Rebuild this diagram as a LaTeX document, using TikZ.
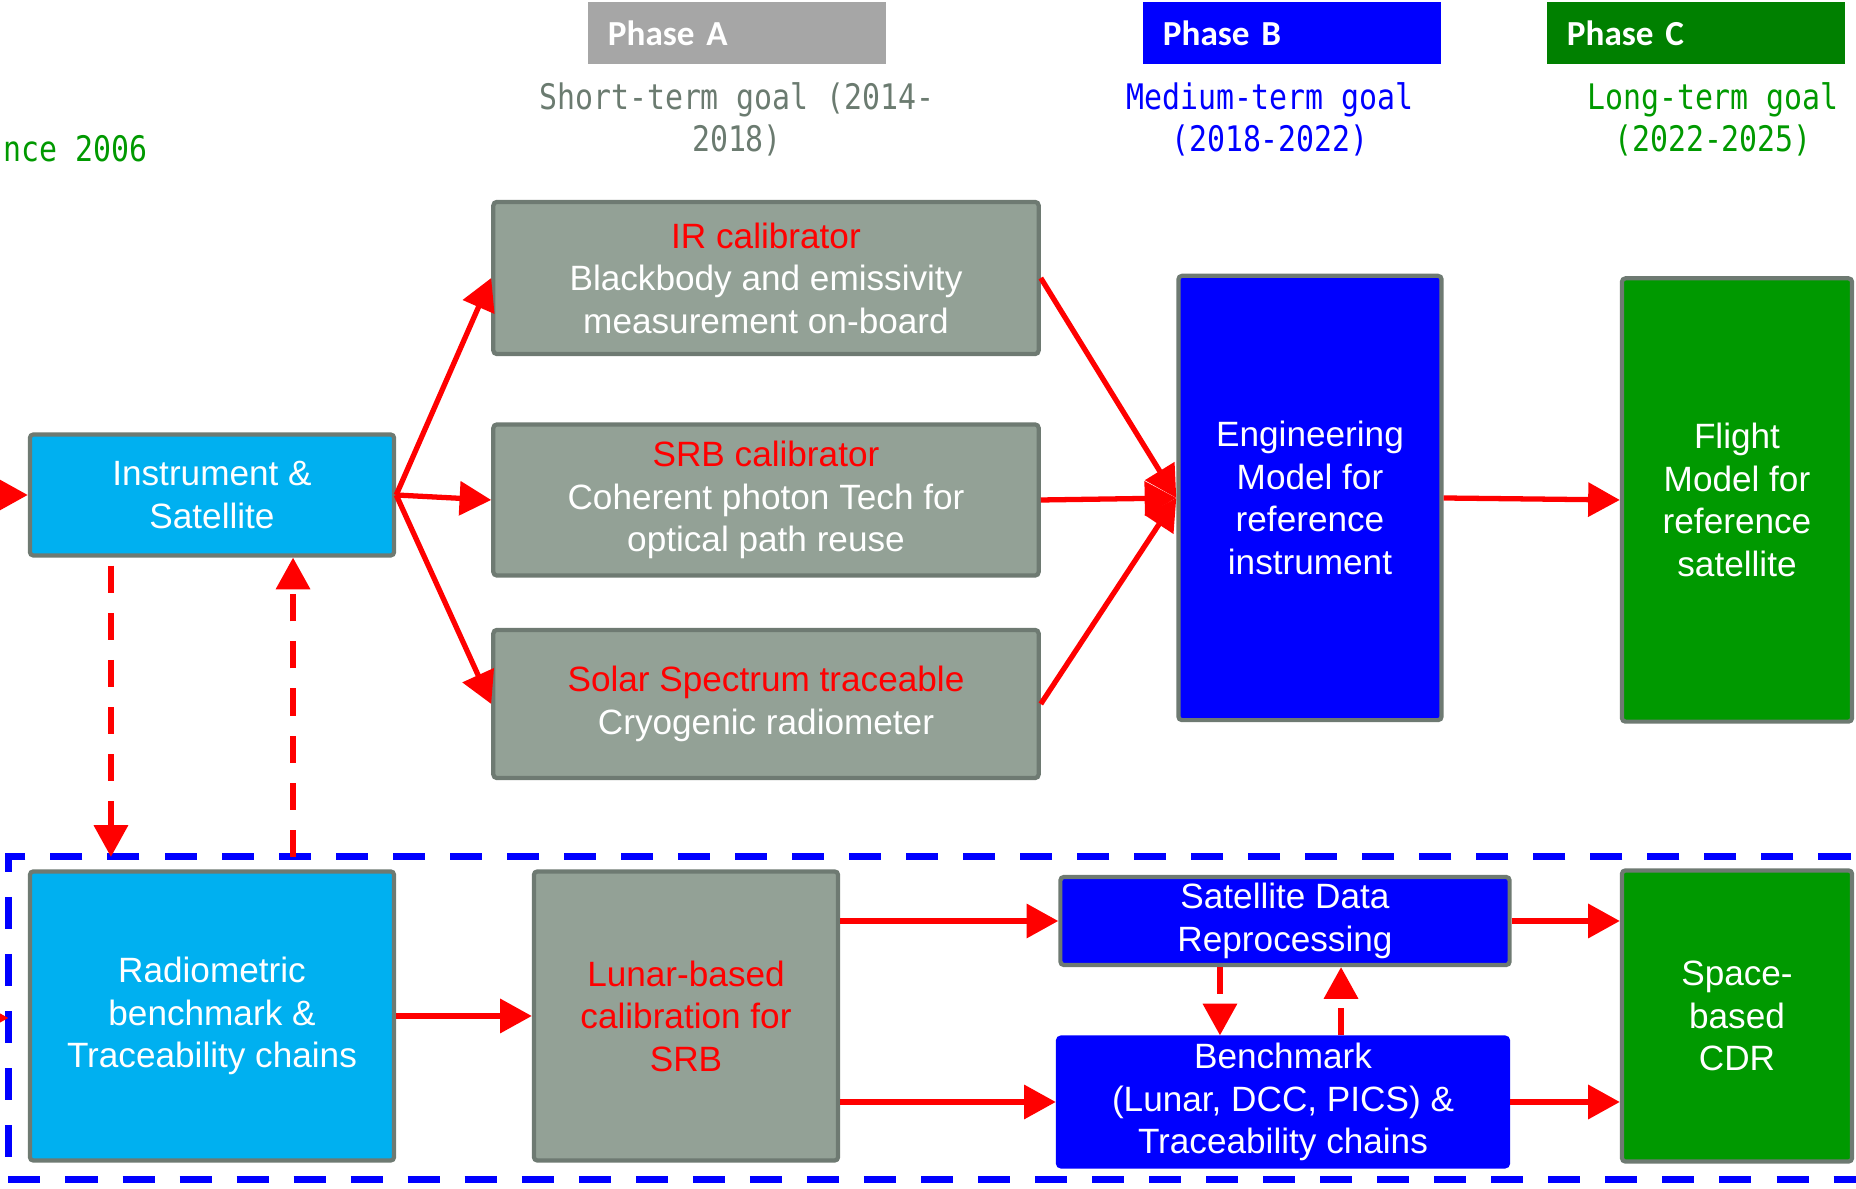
\documentclass[tikz,border=0pt]{standalone}
\usepackage{fontspec}
\setmainfont{Liberation Sans}
\newfontfamily\goalfont[FakeStretch=0.85]{DejaVu Sans Mono}
\newfontfamily\phasefont{Carlito}
\definecolor{boxcyan}{RGB}{0,176,240}
\definecolor{boxgray}{RGB}{147,161,150}
\definecolor{edgegray}{RGB}{110,122,114}
\definecolor{phasegray}{RGB}{166,166,166}
\definecolor{phasegreen}{RGB}{0,128,0}
\definecolor{boxgreen}{RGB}{0,153,0}
\definecolor{goalgray}{RGB}{107,123,112}
\usepackage{tikz}
\usetikzlibrary{arrows.meta, positioning, calc}

\begin{document}
\begin{tikzpicture}[x=0.01cm, y=-0.01cm,
  box/.style={draw=edgegray, line width=1.2pt, rounded corners=1pt, inner sep=0pt, align=center, text=white, font=\fontsize{10pt}{12.1pt}\selectfont},
  phase/.style={inner xsep=0.2cm, inner ysep=0pt, minimum height=0.62cm, text width=2.58cm, align=left, text=white, font=\phasefont\bfseries\fontsize{10pt}{12pt}\selectfont},
  goal/.style={align=center, inner sep=0pt, font=\goalfont\fontsize{10pt}{12pt}\selectfont},
  link/.style={draw=red, line width=1.5pt, -{Triangle[length=9pt, width=9.5pt]}},
  dlink/.style={link, dash pattern=on 7.7pt off 5.7pt},
]
  \useasboundingbox (0,0) rectangle (1856,1189);
  \clip (0,0) rectangle (1856,1189);

  % phases and goals
  \node[phase, fill=phasegray]  (phA) at (737,33)  {Phase A};
  \node[phase, fill=blue]       (phB) at (1292,33) {Phase B};
  \node[phase, fill=phasegreen] (phC) at (1696,33) {Phase C};
  \node[goal, text=goalgray] (gA) at (737,119)  {Short-term goal (2014-\\2018)};
  \node[goal, text=blue]     (gB) at (1270,119) {Medium-term goal\\(2018-2022)};
  \node[goal, text=boxgreen] (gC) at (1713,119) {Long-term goal\\(2022-2025)};
  \node[goal, text=boxgreen, anchor=west] (since) at (3,149) {nce 2006};

  % dashed group
  \node[draw=blue, line width=2pt, dash pattern=on 0.32cm off 0.25cm, minimum width=18.71cm, minimum height=3.22cm, inner sep=0pt, outer sep=0pt] (grp) at (944.5,1018) {};

  % upper row
  \node[box, fill=boxcyan, minimum width=3.64cm, minimum height=1.21cm] (inst) at (212,495) {Instrument \&\\Satellite};
  \node[box, fill=boxgray, minimum width=5.45cm, minimum height=1.52cm] (ir) at (766,278) {\textcolor{red}{IR calibrator}\\Blackbody and emissivity\\measurement on-board};
  \node[box, fill=boxgray, minimum width=5.45cm, minimum height=1.51cm] (srb) at (766,500) {\textcolor{red}{SRB calibrator}\\Coherent photon Tech for\\optical path reuse};
  \node[box, fill=boxgray, minimum width=5.45cm, minimum height=1.48cm] (solar) at (766,704) {\textcolor{red}{Solar Spectrum traceable}\\Cryogenic radiometer};
  \node[box, fill=blue, minimum width=2.63cm, minimum height=4.44cm] (eng) at (1310,498) {Engineering\\Model for\\reference\\instrument};
  \node[box, fill=boxgreen, minimum width=2.30cm, minimum height=4.43cm] (flight) at (1737,500) {Flight\\Model for\\reference\\satellite};

  % lower row
  \node[box, fill=boxcyan, minimum width=3.64cm, minimum height=2.89cm] (rad) at (212,1016) {Radiometric\\benchmark \&\\Traceability chains};
  \node[box, fill=boxgray, text=red, minimum width=3.04cm, minimum height=2.89cm] (lunar) at (686,1016) {Lunar-based\\calibration for\\SRB};
  \node[box, fill=blue, minimum width=4.49cm, minimum height=0.88cm] (sdr) at (1285,921) {Satellite Data\\Reprocessing};
  \node[box, draw=blue, fill=blue, minimum width=4.50cm, minimum height=1.29cm] (bench) at (1283,1102) {Benchmark\\(Lunar, DCC, PICS) \&\\Traceability chains};
  \node[box, fill=boxgreen, minimum width=2.30cm, minimum height=2.91cm] (cdr) at (1737,1016) {Space-\\based\\CDR};

  \coordinate (inL) at (-60,495);
  \coordinate (grpL) at (-60,1018);
  \coordinate (dn) at ([xshift=-1.01cm]inst.south);
  \coordinate (up) at ([xshift=0.81cm]inst.south);
  \coordinate (sd) at ([xshift=-0.65cm]sdr.south);
  \coordinate (su) at ([xshift=0.56cm]sdr.south);

  % connectors
  \draw[link] (inL) -- (inst.west);
  \draw[link] (inst.east) -- (ir.west);
  \draw[link] (inst.east) -- (srb.west);
  \draw[link] (inst.east) -- (solar.west);
  \draw[link] (ir.east) -- (eng.west);
  \draw[link] (srb.east) -- (eng.west);
  \draw[link] (solar.east) -- (eng.west);
  \draw[link] (eng.east) -- (flight.west);
  \draw[link] (grpL) -- (grp.west);
  \draw[link] (rad.east) -- (lunar.west);
  \draw[link] (lunar.east |- sdr.west) -- (sdr.west);
  \draw[link] (lunar.east |- bench.west) -- (bench.west);
  \draw[link] (sdr.east) -- (sdr.east -| cdr.west);
  \draw[link] (bench.east) -- (bench.east -| cdr.west);
  \draw[dlink, shorten <=0.08cm] (dn) -- (dn |- grp.north);
  \draw[dlink] (up |- grp.north) -- (up);
  \draw[dlink] (sd) -- (sd |- bench.north);
  \draw[dlink] (su |- bench.north) -- (su);
\end{tikzpicture}
\end{document}
